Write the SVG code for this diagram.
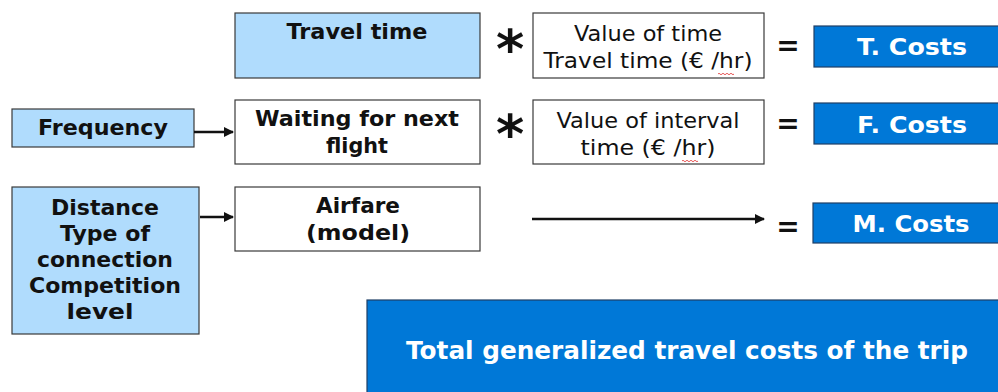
<svg xmlns="http://www.w3.org/2000/svg" width="998" height="392" viewBox="0 0 998 392">
<defs>
<style>
.lb{fill:#b0dcfd;stroke:#3a3a3a;stroke-width:1.2}
.wb{fill:#fff;stroke:#3a3a3a;stroke-width:1.2}
.db{fill:#0078d7;stroke:#1f3f66;stroke-width:1.2}
.bt{font-family:"DejaVu Sans",Verdana,sans-serif;font-weight:bold;font-size:22px;fill:#111;text-anchor:middle}
.nt{font-family:"DejaVu Sans",Verdana,sans-serif;font-size:21px;fill:#111;text-anchor:middle}
.wt{font-family:"DejaVu Sans",Verdana,sans-serif;font-weight:bold;font-size:23px;fill:#fff;text-anchor:middle}
.op{font-family:"DejaVu Sans",Verdana,sans-serif;font-weight:bold;font-size:28px;fill:#111;text-anchor:middle}
.ast{font-family:"DejaVu Sans",Verdana,sans-serif;font-weight:bold;font-size:54px;fill:#111;text-anchor:middle}
.cn{stroke:#111;stroke-width:2.5;fill:none}
.sq{stroke:#e03030;stroke-width:0.8;fill:none}
</style>
<marker id="ah" viewBox="0 0 10 10" refX="9" refY="5" markerWidth="4" markerHeight="4" orient="auto" markerUnits="strokeWidth">
<path d="M0,0 L10,5 L0,10 z" fill="#111"/>
</marker>
</defs>

<g id="travel-time">
<rect class="lb" x="235" y="13" width="245" height="65"/>
<text class="bt" x="357" y="39" textLength="141" lengthAdjust="spacingAndGlyphs">Travel time</text>
</g>
<g id="value-of-time">
<rect class="wb" x="533" y="13" width="231" height="65"/>
<text class="nt" x="648" y="41" textLength="148" lengthAdjust="spacingAndGlyphs">Value of time</text>
<text class="nt" x="648" y="68" textLength="209" lengthAdjust="spacingAndGlyphs">Travel time (€ /hr)</text>
<path class="sq" d="M718,74 q1,-1.5 2,0 t2,0 t2,0 t2,0 t2,0 t2,0 t2,0 t2,0"/>
</g>
<g id="t-costs">
<rect class="db" x="814" y="26" width="186" height="41"/>
<text class="wt" x="912" y="55" textLength="110" lengthAdjust="spacingAndGlyphs">T. Costs</text>
</g>

<g id="frequency">
<rect class="lb" x="12" y="109" width="182" height="38"/>
<text class="bt" x="103" y="135" textLength="130" lengthAdjust="spacingAndGlyphs">Frequency</text>
</g>
<g id="waiting">
<rect class="wb" x="235" y="100" width="245" height="64"/>
<text class="bt" x="357" y="126" textLength="204" lengthAdjust="spacingAndGlyphs">Waiting for next</text>
<text class="bt" x="357" y="153" textLength="62" lengthAdjust="spacingAndGlyphs">flight</text>
</g>
<g id="value-of-interval">
<rect class="wb" x="533" y="100" width="231" height="64"/>
<text class="nt" x="648" y="128" textLength="183" lengthAdjust="spacingAndGlyphs">Value of interval</text>
<text class="nt" x="648" y="155" textLength="135" lengthAdjust="spacingAndGlyphs">time (€ /hr)</text>
<path class="sq" d="M682,161 q1,-1.5 2,0 t2,0 t2,0 t2,0 t2,0 t2,0 t2,0 t2,0"/>
</g>
<g id="f-costs">
<rect class="db" x="814" y="103" width="186" height="41"/>
<text class="wt" x="912" y="133" textLength="110" lengthAdjust="spacingAndGlyphs">F. Costs</text>
</g>

<g id="distance">
<rect class="lb" x="12" y="187" width="187" height="147"/>
<text class="bt" x="105" y="215" textLength="108" lengthAdjust="spacingAndGlyphs">Distance</text>
<text class="bt" x="105" y="241" textLength="90" lengthAdjust="spacingAndGlyphs">Type of</text>
<text class="bt" x="105" y="267" textLength="136" lengthAdjust="spacingAndGlyphs">connection</text>
<text class="bt" x="105" y="293" textLength="152" lengthAdjust="spacingAndGlyphs">Competition</text>
<text class="bt" x="100" y="319" textLength="67" lengthAdjust="spacingAndGlyphs">level</text>
</g>
<g id="airfare">
<rect class="wb" x="235" y="187" width="245" height="64"/>
<text class="bt" x="358" y="213" textLength="84" lengthAdjust="spacingAndGlyphs">Airfare</text>
<text class="bt" x="358" y="240" textLength="104" lengthAdjust="spacingAndGlyphs">(model)</text>
</g>
<g id="m-costs">
<rect class="db" x="813" y="203" width="187" height="40"/>
<text class="wt" x="911" y="232" textLength="117" lengthAdjust="spacingAndGlyphs">M. Costs</text>
</g>

<g id="total">
<rect class="db" x="367" y="300" width="633" height="94"/>
<text class="wt" x="687" y="359" style="font-size:24px" textLength="562" lengthAdjust="spacingAndGlyphs">Total generalized travel costs of the trip</text>
</g>

<g id="operators">
<text class="ast" x="510" y="68">*</text>
<text class="ast" x="510" y="153">*</text>
<text class="op" x="788" y="55">=</text>
<text class="op" x="788" y="133">=</text>
<text class="op" x="788" y="236">=</text>
</g>

<g id="connectors">
<line class="cn" x1="194" y1="132" x2="233" y2="132" marker-end="url(#ah)"/>
<line class="cn" x1="200" y1="217" x2="233" y2="217" marker-end="url(#ah)"/>
<line class="cn" x1="532" y1="219" x2="764" y2="219" marker-end="url(#ah)"/>
</g>
</svg>
